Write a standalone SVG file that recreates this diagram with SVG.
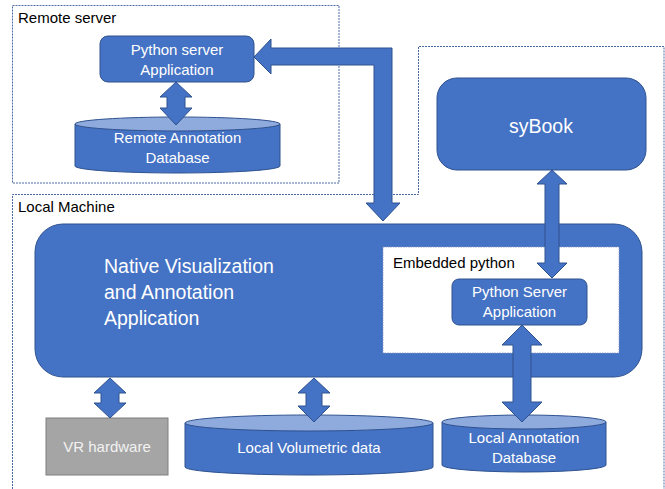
<svg xmlns="http://www.w3.org/2000/svg" width="665" height="489" viewBox="0 0 665 489">
<style>
.bg{fill:#ffffff}
.frame{fill:none;stroke:#4a6aa6;stroke-width:1;stroke-dasharray:2 1}
.node{fill:#4472c4;stroke:#2f528f;stroke-width:1}
.top{fill:#8faadc;stroke:#2f528f;stroke-width:1}
.arrow{fill:#4472c4;stroke:#2f528f;stroke-width:1;stroke-linejoin:miter}
.gray{fill:#a5a5a5;stroke:#7f7f7f;stroke-width:1}
.embed{fill:#ffffff;stroke:#8a9bbf;stroke-width:0.8;stroke-dasharray:1.5 1}
.t{font-family:"Liberation Sans",Arial,sans-serif;font-size:15px;fill:#ffffff;text-anchor:middle}
.lbl{font-family:"Liberation Sans",Arial,sans-serif;font-size:15px;fill:#000000}
.big{font-family:"Liberation Sans",Arial,sans-serif;font-size:19.5px;fill:#ffffff}
</style>
<rect class="bg" x="0" y="0" width="665" height="489"/>

<g id="remote-server">
<rect class="frame" x="12.5" y="5.5" width="326.5" height="177.5"/>
<text class="lbl" x="18" y="23">Remote server</text>
</g>

<g id="local-machine">
<path class="frame" d="M12.5 492 V194.5 H418.5 V46.5 H664 V492"/>
<text class="lbl" x="18" y="212">Local Machine</text>
</g>

<g id="python-server-remote">
<rect class="node" x="100" y="36" width="154" height="46" rx="8"/>
<text class="t" x="177" y="55">Python server</text>
<text class="t" x="177" y="75">Application</text>
</g>

<g id="remote-db">
<path class="node" d="M75 124 V166 A102.5 7 0 0 0 280 166 V124 Z"/>
<ellipse class="top" cx="177.5" cy="124" rx="102.5" ry="7"/>
<text class="t" x="177.5" y="143">Remote Annotation</text>
<text class="t" x="177.5" y="163">Database</text>
</g>

<g id="sybook">
<rect class="node" x="437" y="78" width="209" height="92" rx="20"/>
<text class="big" x="541" y="133" text-anchor="middle">syBook</text>
</g>

<g id="native-app">
<rect class="node" x="35" y="224" width="607" height="153" rx="28"/>
<text class="big" x="104" y="273">Native Visualization</text>
<text class="big" x="104" y="299">and Annotation</text>
<text class="big" x="104" y="325">Application</text>
</g>

<g id="embedded-python">
<rect class="embed" x="383" y="247" width="236" height="106"/>
<text class="lbl" x="393" y="268">Embedded python</text>
</g>

<g id="python-server-embedded">
<rect class="node" x="452" y="279" width="135" height="46" rx="7"/>
<text class="t" x="519.5" y="297">Python Server</text>
<text class="t" x="519.5" y="317">Application</text>
</g>

<g id="vr-hardware">
<rect class="gray" x="46" y="418" width="122" height="57"/>
<text class="t" x="107" y="452" style="fill:#f2f2f2">VR hardware</text>
</g>

<g id="local-volumetric">
<path class="node" d="M185 423 V467 A124 8 0 0 0 433 467 V423 Z"/>
<ellipse class="top" cx="309" cy="423" rx="124" ry="8"/>
<text class="t" x="309" y="453">Local Volumetric data</text>
</g>

<g id="local-annotation-db">
<path class="node" d="M442 422 V465 A82 7 0 0 0 606 465 V422 Z"/>
<ellipse class="top" cx="524" cy="422" rx="82" ry="7"/>
<text class="t" x="524" y="443">Local Annotation</text>
<text class="t" x="524" y="463">Database</text>
</g>

<g id="connectors">
<polygon class="arrow" points="176,82 192,97 185,97 185,108 192,108 176,125 160,108 167,108 167,97 160,97"/>
<polygon class="arrow" points="254,57 271,39 271,48 392,48 392,203 400,203 383,221 366,203 374,203 374,65 271,65 271,74"/>
<polygon class="arrow" points="552,170 567,184 559,184 559,263 567,263 552,278 537,263 545,263 545,184 537,184"/>
<polygon class="arrow" points="522,325 542,345 531,345 531,402 542,402 522,422 502,402 513,402 513,345 502,345"/>
<polygon class="arrow" points="110,378 126,393 119,393 119,403 126,403 110,418 94,403 101,403 101,393 94,393"/>
<polygon class="arrow" points="314,378 330,393 322,393 322,406 330,406 314,422 298,406 306,406 306,393 298,393"/>
</g>
</svg>
